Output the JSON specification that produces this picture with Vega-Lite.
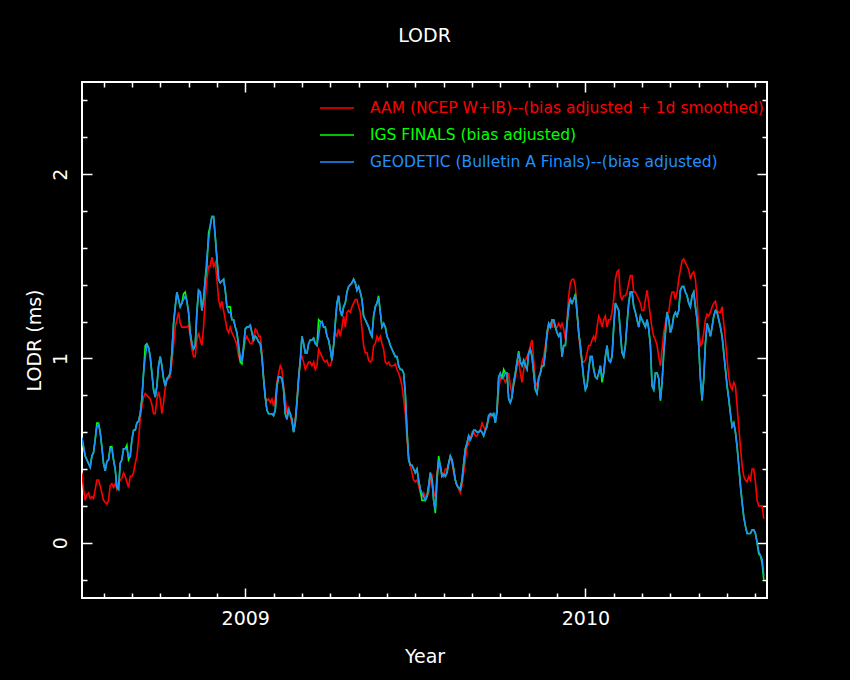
{
"$schema":"https://vega.github.io/schema/vega-lite/v6.json",
"width":685,"height":516,
"autosize":{"type":"none"},
"padding":{"left":82,"top":82,"right":83,"bottom":82},
"background":"black",
"title":{"text":"LODR","color":"white","fontSize":19,"font":"DejaVu Sans","fontWeight":"normal","anchor":"middle","baseline":"alphabetic","offset":20},
"config":{
 "view":{"stroke":"white","strokeWidth":2},
 "font":"DejaVu Sans",
 "axis":{"domain":false,"grid":false,"tickColor":"white","tickWidth":1.5,"labelColor":"white","titleColor":"white","labelFontSize":19,"titleFontSize":19,"titleFontWeight":"normal","labelFont":"DejaVu Sans","titleFont":"DejaVu Sans","labelOverlap":false,"labelFlush":false,"labelBound":false}
},
"data":{"values":[
{"t":2008.5196,"r":0.38,"g":0.57,"b":0.57},
{"t":2008.5245,"r":0.29,"g":0.52,"b":0.52},
{"t":2008.5294,"r":0.23,"g":0.47,"b":0.47},
{"t":2008.5343,"r":0.26,"g":0.45,"b":0.45},
{"t":2008.5392,"r":0.27,"g":0.43,"b":0.43},
{"t":2008.5441,"r":0.24,"g":0.41,"b":0.41},
{"t":2008.5490,"r":0.25,"g":0.47,"b":0.47},
{"t":2008.5539,"r":0.24,"g":0.49,"b":0.49},
{"t":2008.5588,"r":0.29,"g":0.56,"b":0.56},
{"t":2008.5637,"r":0.34,"g":0.65,"b":0.63},
{"t":2008.5686,"r":0.34,"g":0.65,"b":0.64},
{"t":2008.5735,"r":0.31,"g":0.60,"b":0.60},
{"t":2008.5784,"r":0.27,"g":0.52,"b":0.52},
{"t":2008.5833,"r":0.23,"g":0.43,"b":0.43},
{"t":2008.5882,"r":0.22,"g":0.39,"b":0.39},
{"t":2008.5931,"r":0.21,"g":0.44,"b":0.44},
{"t":2008.5980,"r":0.23,"g":0.45,"b":0.45},
{"t":2008.6029,"r":0.31,"g":0.52,"b":0.51},
{"t":2008.6078,"r":0.32,"g":0.52,"b":0.51},
{"t":2008.6127,"r":0.30,"g":0.45,"b":0.45},
{"t":2008.6176,"r":0.32,"g":0.40,"b":0.40},
{"t":2008.6225,"r":0.29,"g":0.30,"b":0.30},
{"t":2008.6274,"r":0.32,"g":0.29,"b":0.29},
{"t":2008.6323,"r":0.34,"g":0.43,"b":0.43},
{"t":2008.6372,"r":0.35,"g":0.45,"b":0.45},
{"t":2008.6421,"r":0.38,"g":0.51,"b":0.51},
{"t":2008.6470,"r":0.36,"g":0.51,"b":0.51},
{"t":2008.6519,"r":0.33,"g":0.53,"b":0.51},
{"t":2008.6568,"r":0.30,"g":0.45,"b":0.47},
{"t":2008.6618,"r":0.36,"g":0.47,"b":0.47},
{"t":2008.6667,"r":0.36,"g":0.56,"b":0.56},
{"t":2008.6716,"r":0.38,"g":0.61,"b":0.61},
{"t":2008.6765,"r":0.43,"g":0.61,"b":0.61},
{"t":2008.6814,"r":0.47,"g":0.65,"b":0.65},
{"t":2008.6863,"r":0.56,"g":0.66,"b":0.66},
{"t":2008.6912,"r":0.67,"g":0.70,"b":0.70},
{"t":2008.6961,"r":0.74,"g":0.78,"b":0.78},
{"t":2008.7010,"r":0.79,"g":0.92,"b":0.92},
{"t":2008.7059,"r":0.81,"g":1.07,"b":1.01},
{"t":2008.7108,"r":0.80,"g":1.08,"b":1.07},
{"t":2008.7157,"r":0.79,"g":1.06,"b":1.06},
{"t":2008.7206,"r":0.78,"g":1.01,"b":1.01},
{"t":2008.7255,"r":0.75,"g":0.92,"b":0.92},
{"t":2008.7304,"r":0.70,"g":0.83,"b":0.83},
{"t":2008.7353,"r":0.70,"g":0.79,"b":0.79},
{"t":2008.7402,"r":0.78,"g":0.85,"b":0.85},
{"t":2008.7451,"r":0.82,"g":0.96,"b":0.96},
{"t":2008.7500,"r":0.78,"g":1.01,"b":1.01},
{"t":2008.7549,"r":0.70,"g":0.96,"b":0.96},
{"t":2008.7598,"r":0.76,"g":0.89,"b":0.89},
{"t":2008.7647,"r":0.84,"g":0.85,"b":0.85},
{"t":2008.7696,"r":0.88,"g":0.89,"b":0.89},
{"t":2008.7745,"r":0.89,"g":0.90,"b":0.90},
{"t":2008.7794,"r":0.90,"g":0.92,"b":0.92},
{"t":2008.7843,"r":0.98,"g":1.03,"b":1.03},
{"t":2008.7892,"r":1.07,"g":1.19,"b":1.19},
{"t":2008.7941,"r":1.17,"g":1.28,"b":1.28},
{"t":2008.7990,"r":1.21,"g":1.36,"b":1.36},
{"t":2008.8039,"r":1.25,"g":1.32,"b":1.32},
{"t":2008.8088,"r":1.19,"g":1.28,"b":1.28},
{"t":2008.8137,"r":1.17,"g":1.30,"b":1.30},
{"t":2008.8186,"r":1.17,"g":1.35,"b":1.32},
{"t":2008.8235,"r":1.17,"g":1.36,"b":1.34},
{"t":2008.8284,"r":1.17,"g":1.31,"b":1.31},
{"t":2008.8333,"r":1.18,"g":1.25,"b":1.25},
{"t":2008.8382,"r":1.12,"g":1.14,"b":1.14},
{"t":2008.8431,"r":1.05,"g":1.08,"b":1.08},
{"t":2008.8480,"r":1.01,"g":1.05,"b":1.05},
{"t":2008.8529,"r":1.01,"g":1.07,"b":1.07},
{"t":2008.8578,"r":1.10,"g":1.25,"b":1.25},
{"t":2008.8627,"r":1.14,"g":1.37,"b":1.37},
{"t":2008.8676,"r":1.10,"g":1.36,"b":1.36},
{"t":2008.8725,"r":1.07,"g":1.26,"b":1.26},
{"t":2008.8774,"r":1.17,"g":1.32,"b":1.32},
{"t":2008.8823,"r":1.32,"g":1.43,"b":1.43},
{"t":2008.8872,"r":1.43,"g":1.50,"b":1.55},
{"t":2008.8921,"r":1.50,"g":1.68,"b":1.64},
{"t":2008.8970,"r":1.50,"g":1.72,"b":1.72},
{"t":2008.9019,"r":1.55,"g":1.77,"b":1.77},
{"t":2008.9069,"r":1.50,"g":1.77,"b":1.77},
{"t":2008.9118,"r":1.52,"g":1.66,"b":1.66},
{"t":2008.9167,"r":1.43,"g":1.54,"b":1.54},
{"t":2008.9216,"r":1.32,"g":1.43,"b":1.43},
{"t":2008.9265,"r":1.28,"g":1.41,"b":1.41},
{"t":2008.9314,"r":1.31,"g":1.42,"b":1.42},
{"t":2008.9363,"r":1.26,"g":1.43,"b":1.43},
{"t":2008.9412,"r":1.21,"g":1.37,"b":1.37},
{"t":2008.9461,"r":1.16,"g":1.28,"b":1.28},
{"t":2008.9510,"r":1.14,"g":1.28,"b":1.25},
{"t":2008.9559,"r":1.17,"g":1.28,"b":1.25},
{"t":2008.9608,"r":1.14,"g":1.21,"b":1.21},
{"t":2008.9657,"r":1.12,"g":1.21,"b":1.21},
{"t":2008.9706,"r":1.10,"g":1.17,"b":1.17},
{"t":2008.9755,"r":1.07,"g":1.14,"b":1.14},
{"t":2008.9804,"r":1.01,"g":1.07,"b":1.07},
{"t":2008.9853,"r":0.99,"g":0.98,"b":1.01},
{"t":2008.9902,"r":1.01,"g":0.97,"b":0.98},
{"t":2008.9951,"r":1.05,"g":1.05,"b":1.07},
{"t":2009.0000,"r":1.10,"g":1.16,"b":1.16},
{"t":2009.0049,"r":1.12,"g":1.17,"b":1.17},
{"t":2009.0098,"r":1.10,"g":1.17,"b":1.17},
{"t":2009.0147,"r":1.08,"g":1.18,"b":1.18},
{"t":2009.0196,"r":1.08,"g":1.14,"b":1.14},
{"t":2009.0245,"r":1.12,"g":1.10,"b":1.10},
{"t":2009.0294,"r":1.16,"g":1.12,"b":1.12},
{"t":2009.0343,"r":1.15,"g":1.11,"b":1.11},
{"t":2009.0392,"r":1.12,"g":1.09,"b":1.09},
{"t":2009.0441,"r":1.12,"g":1.08,"b":1.08},
{"t":2009.0490,"r":1.03,"g":1.01,"b":1.01},
{"t":2009.0539,"r":0.90,"g":0.89,"b":0.89},
{"t":2009.0588,"r":0.79,"g":0.79,"b":0.79},
{"t":2009.0637,"r":0.77,"g":0.72,"b":0.72},
{"t":2009.0686,"r":0.78,"g":0.70,"b":0.70},
{"t":2009.0735,"r":0.76,"g":0.70,"b":0.70},
{"t":2009.0784,"r":0.78,"g":0.70,"b":0.70},
{"t":2009.0833,"r":0.74,"g":0.69,"b":0.69},
{"t":2009.0882,"r":0.78,"g":0.72,"b":0.72},
{"t":2009.0931,"r":0.87,"g":0.85,"b":0.85},
{"t":2009.0980,"r":0.92,"g":0.90,"b":0.90},
{"t":2009.1029,"r":0.96,"g":0.90,"b":0.90},
{"t":2009.1078,"r":0.94,"g":0.89,"b":0.89},
{"t":2009.1127,"r":0.85,"g":0.83,"b":0.83},
{"t":2009.1176,"r":0.78,"g":0.70,"b":0.70},
{"t":2009.1225,"r":0.70,"g":0.67,"b":0.67},
{"t":2009.1274,"r":0.74,"g":0.72,"b":0.72},
{"t":2009.1323,"r":0.69,"g":0.70,"b":0.70},
{"t":2009.1372,"r":0.65,"g":0.67,"b":0.67},
{"t":2009.1421,"r":0.61,"g":0.60,"b":0.60},
{"t":2009.1470,"r":0.67,"g":0.65,"b":0.65},
{"t":2009.1520,"r":0.78,"g":0.76,"b":0.76},
{"t":2009.1569,"r":0.90,"g":0.89,"b":0.89},
{"t":2009.1618,"r":0.99,"g":0.99,"b":0.99},
{"t":2009.1667,"r":1.01,"g":1.12,"b":1.12},
{"t":2009.1716,"r":0.98,"g":1.08,"b":1.08},
{"t":2009.1765,"r":0.94,"g":1.03,"b":1.03},
{"t":2009.1814,"r":0.96,"g":1.03,"b":1.03},
{"t":2009.1863,"r":0.98,"g":1.08,"b":1.08},
{"t":2009.1912,"r":0.98,"g":1.10,"b":1.10},
{"t":2009.1961,"r":0.96,"g":1.10,"b":1.10},
{"t":2009.2010,"r":0.98,"g":1.11,"b":1.11},
{"t":2009.2059,"r":0.94,"g":1.08,"b":1.08},
{"t":2009.2108,"r":0.96,"g":1.07,"b":1.07},
{"t":2009.2157,"r":1.05,"g":1.21,"b":1.12},
{"t":2009.2206,"r":1.03,"g":1.20,"b":1.19},
{"t":2009.2255,"r":1.01,"g":1.20,"b":1.20},
{"t":2009.2304,"r":0.99,"g":1.17,"b":1.17},
{"t":2009.2353,"r":0.98,"g":1.17,"b":1.17},
{"t":2009.2402,"r":0.99,"g":1.12,"b":1.12},
{"t":2009.2451,"r":0.96,"g":1.10,"b":1.10},
{"t":2009.2500,"r":0.96,"g":1.05,"b":1.05},
{"t":2009.2549,"r":0.99,"g":0.99,"b":0.99},
{"t":2009.2598,"r":1.07,"g":1.07,"b":1.07},
{"t":2009.2647,"r":1.14,"g":1.19,"b":1.19},
{"t":2009.2696,"r":1.12,"g":1.30,"b":1.30},
{"t":2009.2745,"r":1.16,"g":1.34,"b":1.34},
{"t":2009.2794,"r":1.12,"g":1.26,"b":1.26},
{"t":2009.2843,"r":1.17,"g":1.23,"b":1.23},
{"t":2009.2892,"r":1.23,"g":1.28,"b":1.28},
{"t":2009.2941,"r":1.17,"g":1.30,"b":1.30},
{"t":2009.2990,"r":1.25,"g":1.36,"b":1.36},
{"t":2009.3039,"r":1.26,"g":1.39,"b":1.39},
{"t":2009.3088,"r":1.25,"g":1.40,"b":1.40},
{"t":2009.3137,"r":1.28,"g":1.41,"b":1.41},
{"t":2009.3186,"r":1.30,"g":1.43,"b":1.43},
{"t":2009.3235,"r":1.32,"g":1.41,"b":1.41},
{"t":2009.3284,"r":1.32,"g":1.37,"b":1.37},
{"t":2009.3333,"r":1.28,"g":1.39,"b":1.39},
{"t":2009.3382,"r":1.25,"g":1.36,"b":1.36},
{"t":2009.3431,"r":1.16,"g":1.32,"b":1.32},
{"t":2009.3480,"r":1.07,"g":1.23,"b":1.23},
{"t":2009.3529,"r":1.03,"g":1.21,"b":1.21},
{"t":2009.3578,"r":1.03,"g":1.19,"b":1.19},
{"t":2009.3627,"r":0.99,"g":1.17,"b":1.17},
{"t":2009.3676,"r":0.98,"g":1.14,"b":1.14},
{"t":2009.3725,"r":0.99,"g":1.12,"b":1.12},
{"t":2009.3774,"r":1.07,"g":1.23,"b":1.23},
{"t":2009.3823,"r":1.08,"g":1.28,"b":1.28},
{"t":2009.3872,"r":1.12,"g":1.30,"b":1.30},
{"t":2009.3921,"r":1.10,"g":1.34,"b":1.33},
{"t":2009.3971,"r":1.12,"g":1.25,"b":1.25},
{"t":2009.4020,"r":1.08,"g":1.17,"b":1.17},
{"t":2009.4069,"r":1.05,"g":1.19,"b":1.19},
{"t":2009.4118,"r":0.98,"g":1.17,"b":1.17},
{"t":2009.4167,"r":0.97,"g":1.12,"b":1.12},
{"t":2009.4216,"r":0.98,"g":1.10,"b":1.10},
{"t":2009.4265,"r":0.96,"g":1.07,"b":1.07},
{"t":2009.4314,"r":0.96,"g":1.05,"b":1.05},
{"t":2009.4363,"r":0.96,"g":1.03,"b":1.03},
{"t":2009.4412,"r":0.97,"g":1.01,"b":1.01},
{"t":2009.4461,"r":0.94,"g":1.01,"b":1.01},
{"t":2009.4510,"r":0.92,"g":0.96,"b":0.96},
{"t":2009.4559,"r":0.89,"g":0.94,"b":0.94},
{"t":2009.4608,"r":0.85,"g":0.94,"b":0.94},
{"t":2009.4657,"r":0.78,"g":0.92,"b":0.92},
{"t":2009.4706,"r":0.70,"g":0.81,"b":0.81},
{"t":2009.4755,"r":0.56,"g":0.61,"b":0.61},
{"t":2009.4804,"r":0.47,"g":0.45,"b":0.45},
{"t":2009.4853,"r":0.42,"g":0.42,"b":0.42},
{"t":2009.4902,"r":0.38,"g":0.42,"b":0.42},
{"t":2009.4951,"r":0.34,"g":0.40,"b":0.40},
{"t":2009.5000,"r":0.33,"g":0.38,"b":0.38},
{"t":2009.5049,"r":0.34,"g":0.40,"b":0.40},
{"t":2009.5098,"r":0.31,"g":0.34,"b":0.34},
{"t":2009.5147,"r":0.27,"g":0.29,"b":0.29},
{"t":2009.5196,"r":0.25,"g":0.23,"b":0.27},
{"t":2009.5245,"r":0.27,"g":0.23,"b":0.25},
{"t":2009.5294,"r":0.25,"g":0.23,"b":0.23},
{"t":2009.5343,"r":0.25,"g":0.25,"b":0.25},
{"t":2009.5392,"r":0.27,"g":0.31,"b":0.31},
{"t":2009.5441,"r":0.34,"g":0.38,"b":0.38},
{"t":2009.5490,"r":0.36,"g":0.34,"b":0.34},
{"t":2009.5539,"r":0.27,"g":0.23,"b":0.23},
{"t":2009.5588,"r":0.25,"g":0.16,"b":0.18},
{"t":2009.5637,"r":0.38,"g":0.34,"b":0.34},
{"t":2009.5686,"r":0.43,"g":0.47,"b":0.45},
{"t":2009.5735,"r":0.40,"g":0.42,"b":0.42},
{"t":2009.5784,"r":0.38,"g":0.36,"b":0.36},
{"t":2009.5833,"r":0.36,"g":0.37,"b":0.37},
{"t":2009.5882,"r":0.40,"g":0.36,"b":0.36},
{"t":2009.5931,"r":0.40,"g":0.38,"b":0.38},
{"t":2009.5980,"r":0.43,"g":0.43,"b":0.43},
{"t":2009.6029,"r":0.47,"g":0.47,"b":0.47},
{"t":2009.6078,"r":0.43,"g":0.45,"b":0.45},
{"t":2009.6127,"r":0.38,"g":0.40,"b":0.40},
{"t":2009.6176,"r":0.34,"g":0.34,"b":0.34},
{"t":2009.6225,"r":0.31,"g":0.31,"b":0.31},
{"t":2009.6274,"r":0.29,"g":0.30,"b":0.30},
{"t":2009.6323,"r":0.27,"g":0.29,"b":0.29},
{"t":2009.6372,"r":0.31,"g":0.34,"b":0.34},
{"t":2009.6422,"r":0.38,"g":0.43,"b":0.43},
{"t":2009.6471,"r":0.45,"g":0.51,"b":0.51},
{"t":2009.6520,"r":0.52,"g":0.54,"b":0.54},
{"t":2009.6569,"r":0.54,"g":0.58,"b":0.58},
{"t":2009.6618,"r":0.56,"g":0.56,"b":0.56},
{"t":2009.6667,"r":0.60,"g":0.58,"b":0.58},
{"t":2009.6716,"r":0.60,"g":0.61,"b":0.61},
{"t":2009.6765,"r":0.58,"g":0.61,"b":0.61},
{"t":2009.6814,"r":0.58,"g":0.60,"b":0.60},
{"t":2009.6863,"r":0.60,"g":0.60,"b":0.60},
{"t":2009.6912,"r":0.61,"g":0.61,"b":0.61},
{"t":2009.6961,"r":0.65,"g":0.60,"b":0.60},
{"t":2009.7010,"r":0.63,"g":0.58,"b":0.58},
{"t":2009.7059,"r":0.61,"g":0.61,"b":0.61},
{"t":2009.7108,"r":0.65,"g":0.63,"b":0.63},
{"t":2009.7157,"r":0.67,"g":0.69,"b":0.69},
{"t":2009.7206,"r":0.69,"g":0.70,"b":0.70},
{"t":2009.7255,"r":0.70,"g":0.69,"b":0.69},
{"t":2009.7304,"r":0.69,"g":0.70,"b":0.70},
{"t":2009.7353,"r":0.67,"g":0.65,"b":0.65},
{"t":2009.7402,"r":0.70,"g":0.72,"b":0.72},
{"t":2009.7451,"r":0.83,"g":0.90,"b":0.90},
{"t":2009.7500,"r":0.89,"g":0.92,"b":0.92},
{"t":2009.7549,"r":0.90,"g":0.89,"b":0.89},
{"t":2009.7598,"r":0.89,"g":0.94,"b":0.90},
{"t":2009.7647,"r":0.87,"g":0.92,"b":0.92},
{"t":2009.7696,"r":0.89,"g":0.92,"b":0.92},
{"t":2009.7745,"r":0.92,"g":0.78,"b":0.78},
{"t":2009.7794,"r":0.85,"g":0.76,"b":0.76},
{"t":2009.7843,"r":0.81,"g":0.79,"b":0.79},
{"t":2009.7892,"r":0.85,"g":0.87,"b":0.87},
{"t":2009.7941,"r":0.89,"g":0.92,"b":0.92},
{"t":2009.7990,"r":0.96,"g":0.98,"b":0.98},
{"t":2009.8039,"r":0.99,"g":1.04,"b":1.03},
{"t":2009.8088,"r":0.92,"g":0.98,"b":0.98},
{"t":2009.8137,"r":0.87,"g":0.96,"b":0.96},
{"t":2009.8186,"r":0.94,"g":0.99,"b":0.99},
{"t":2009.8235,"r":0.99,"g":0.96,"b":0.96},
{"t":2009.8284,"r":1.01,"g":0.94,"b":0.94},
{"t":2009.8333,"r":1.03,"g":1.03,"b":1.03},
{"t":2009.8382,"r":1.07,"g":1.05,"b":1.05},
{"t":2009.8431,"r":1.10,"g":1.01,"b":1.01},
{"t":2009.8480,"r":0.99,"g":0.92,"b":0.92},
{"t":2009.8529,"r":0.87,"g":0.83,"b":0.83},
{"t":2009.8578,"r":0.85,"g":0.81,"b":0.81},
{"t":2009.8627,"r":0.90,"g":0.89,"b":0.89},
{"t":2009.8676,"r":0.92,"g":0.92,"b":0.92},
{"t":2009.8725,"r":0.98,"g":0.96,"b":0.96},
{"t":2009.8774,"r":1.01,"g":0.96,"b":0.96},
{"t":2009.8823,"r":1.07,"g":1.03,"b":1.03},
{"t":2009.8873,"r":1.12,"g":1.14,"b":1.14},
{"t":2009.8922,"r":1.17,"g":1.19,"b":1.19},
{"t":2009.8971,"r":1.17,"g":1.17,"b":1.17},
{"t":2009.9020,"r":1.17,"g":1.21,"b":1.21},
{"t":2009.9069,"r":1.21,"g":1.21,"b":1.21},
{"t":2009.9118,"r":1.17,"g":1.17,"b":1.17},
{"t":2009.9167,"r":1.17,"g":1.14,"b":1.14},
{"t":2009.9216,"r":1.19,"g":1.12,"b":1.12},
{"t":2009.9265,"r":1.17,"g":1.14,"b":1.14},
{"t":2009.9314,"r":1.19,"g":1.01,"b":1.01},
{"t":2009.9363,"r":1.16,"g":1.07,"b":1.07},
{"t":2009.9412,"r":1.10,"g":1.07,"b":1.07},
{"t":2009.9461,"r":1.21,"g":1.19,"b":1.19},
{"t":2009.9510,"r":1.34,"g":1.28,"b":1.28},
{"t":2009.9559,"r":1.41,"g":1.32,"b":1.32},
{"t":2009.9608,"r":1.43,"g":1.30,"b":1.30},
{"t":2009.9657,"r":1.43,"g":1.32,"b":1.32},
{"t":2009.9706,"r":1.39,"g":1.35,"b":1.34},
{"t":2009.9755,"r":1.25,"g":1.25,"b":1.25},
{"t":2009.9804,"r":1.14,"g":1.14,"b":1.14},
{"t":2009.9853,"r":1.03,"g":1.07,"b":1.07},
{"t":2009.9902,"r":0.98,"g":0.98,"b":0.98},
{"t":2009.9951,"r":0.98,"g":0.89,"b":0.89},
{"t":2010.0000,"r":0.99,"g":0.83,"b":0.83},
{"t":2010.0049,"r":1.03,"g":0.85,"b":0.85},
{"t":2010.0098,"r":1.07,"g":0.94,"b":0.94},
{"t":2010.0147,"r":1.07,"g":1.01,"b":1.01},
{"t":2010.0196,"r":1.10,"g":1.01,"b":1.01},
{"t":2010.0245,"r":1.12,"g":0.94,"b":0.94},
{"t":2010.0294,"r":1.10,"g":0.90,"b":0.90},
{"t":2010.0343,"r":1.17,"g":0.89,"b":0.89},
{"t":2010.0392,"r":1.23,"g":0.92,"b":0.92},
{"t":2010.0441,"r":1.21,"g":0.96,"b":0.96},
{"t":2010.0490,"r":1.17,"g":0.87,"b":0.90},
{"t":2010.0539,"r":1.21,"g":0.92,"b":0.92},
{"t":2010.0588,"r":1.23,"g":1.01,"b":1.01},
{"t":2010.0637,"r":1.17,"g":1.07,"b":1.07},
{"t":2010.0686,"r":1.21,"g":0.99,"b":0.99},
{"t":2010.0735,"r":1.21,"g":0.98,"b":0.98},
{"t":2010.0784,"r":1.25,"g":1.01,"b":1.01},
{"t":2010.0833,"r":1.32,"g":1.17,"b":1.17},
{"t":2010.0882,"r":1.43,"g":1.30,"b":1.30},
{"t":2010.0931,"r":1.47,"g":1.28,"b":1.28},
{"t":2010.0980,"r":1.48,"g":1.26,"b":1.26},
{"t":2010.1029,"r":1.34,"g":1.14,"b":1.14},
{"t":2010.1078,"r":1.32,"g":1.03,"b":1.03},
{"t":2010.1127,"r":1.34,"g":1.01,"b":1.01},
{"t":2010.1176,"r":1.34,"g":1.07,"b":1.07},
{"t":2010.1225,"r":1.36,"g":1.19,"b":1.19},
{"t":2010.1274,"r":1.41,"g":1.30,"b":1.30},
{"t":2010.1324,"r":1.45,"g":1.36,"b":1.36},
{"t":2010.1373,"r":1.45,"g":1.36,"b":1.36},
{"t":2010.1422,"r":1.36,"g":1.28,"b":1.28},
{"t":2010.1471,"r":1.36,"g":1.25,"b":1.25},
{"t":2010.1520,"r":1.34,"g":1.21,"b":1.21},
{"t":2010.1569,"r":1.32,"g":1.17,"b":1.17},
{"t":2010.1618,"r":1.30,"g":1.23,"b":1.23},
{"t":2010.1667,"r":1.26,"g":1.21,"b":1.21},
{"t":2010.1716,"r":1.26,"g":1.19,"b":1.19},
{"t":2010.1765,"r":1.32,"g":1.17,"b":1.17},
{"t":2010.1814,"r":1.37,"g":1.21,"b":1.21},
{"t":2010.1863,"r":1.30,"g":1.16,"b":1.16},
{"t":2010.1912,"r":1.23,"g":1.07,"b":1.07},
{"t":2010.1961,"r":1.16,"g":0.85,"b":0.85},
{"t":2010.2010,"r":1.12,"g":0.83,"b":0.83},
{"t":2010.2059,"r":1.10,"g":0.92,"b":0.92},
{"t":2010.2108,"r":1.07,"g":0.92,"b":0.92},
{"t":2010.2157,"r":1.01,"g":0.89,"b":0.89},
{"t":2010.2206,"r":0.96,"g":0.77,"b":0.78},
{"t":2010.2255,"r":1.05,"g":0.87,"b":0.87},
{"t":2010.2304,"r":1.14,"g":1.03,"b":1.03},
{"t":2010.2353,"r":1.19,"g":1.14,"b":1.14},
{"t":2010.2402,"r":1.25,"g":1.25,"b":1.25},
{"t":2010.2451,"r":1.25,"g":1.21,"b":1.21},
{"t":2010.2500,"r":1.32,"g":1.14,"b":1.14},
{"t":2010.2549,"r":1.36,"g":1.17,"b":1.17},
{"t":2010.2598,"r":1.36,"g":1.23,"b":1.23},
{"t":2010.2647,"r":1.32,"g":1.25,"b":1.25},
{"t":2010.2696,"r":1.36,"g":1.23,"b":1.23},
{"t":2010.2745,"r":1.43,"g":1.26,"b":1.26},
{"t":2010.2794,"r":1.48,"g":1.37,"b":1.37},
{"t":2010.2843,"r":1.53,"g":1.39,"b":1.39},
{"t":2010.2892,"r":1.54,"g":1.39,"b":1.39},
{"t":2010.2941,"r":1.52,"g":1.36,"b":1.36},
{"t":2010.2990,"r":1.50,"g":1.34,"b":1.34},
{"t":2010.3039,"r":1.48,"g":1.30,"b":1.30},
{"t":2010.3088,"r":1.43,"g":1.28,"b":1.28},
{"t":2010.3137,"r":1.46,"g":1.34,"b":1.34},
{"t":2010.3186,"r":1.47,"g":1.36,"b":1.36},
{"t":2010.3235,"r":1.43,"g":1.28,"b":1.28},
{"t":2010.3284,"r":1.32,"g":1.21,"b":1.21},
{"t":2010.3333,"r":1.16,"g":1.07,"b":1.07},
{"t":2010.3382,"r":1.07,"g":0.89,"b":0.89},
{"t":2010.3431,"r":1.08,"g":0.77,"b":0.78},
{"t":2010.3480,"r":1.14,"g":0.89,"b":0.89},
{"t":2010.3529,"r":1.21,"g":1.08,"b":1.08},
{"t":2010.3578,"r":1.24,"g":1.19,"b":1.19},
{"t":2010.3627,"r":1.23,"g":1.16,"b":1.16},
{"t":2010.3676,"r":1.25,"g":1.12,"b":1.12},
{"t":2010.3725,"r":1.28,"g":1.17,"b":1.17},
{"t":2010.3775,"r":1.30,"g":1.23,"b":1.23},
{"t":2010.3824,"r":1.31,"g":1.26,"b":1.26},
{"t":2010.3873,"r":1.26,"g":1.25,"b":1.25},
{"t":2010.3922,"r":1.25,"g":1.21,"b":1.21},
{"t":2010.3971,"r":1.25,"g":1.17,"b":1.17},
{"t":2010.4020,"r":1.28,"g":1.12,"b":1.12},
{"t":2010.4069,"r":1.19,"g":1.03,"b":1.03},
{"t":2010.4118,"r":1.10,"g":0.94,"b":0.94},
{"t":2010.4167,"r":0.99,"g":0.85,"b":0.85},
{"t":2010.4216,"r":0.90,"g":0.78,"b":0.78},
{"t":2010.4265,"r":0.85,"g":0.70,"b":0.70},
{"t":2010.4314,"r":0.83,"g":0.63,"b":0.63},
{"t":2010.4363,"r":0.87,"g":0.65,"b":0.65},
{"t":2010.4412,"r":0.85,"g":0.60,"b":0.60},
{"t":2010.4461,"r":0.74,"g":0.52,"b":0.52},
{"t":2010.4510,"r":0.63,"g":0.42,"b":0.42},
{"t":2010.4559,"r":0.52,"g":0.31,"b":0.31},
{"t":2010.4608,"r":0.42,"g":0.22,"b":0.22},
{"t":2010.4657,"r":0.36,"g":0.14,"b":0.14},
{"t":2010.4706,"r":0.34,"g":0.09,"b":0.09},
{"t":2010.4755,"r":0.33,"g":0.05,"b":0.05},
{"t":2010.4804,"r":0.36,"g":0.05,"b":0.05},
{"t":2010.4853,"r":0.34,"g":0.05,"b":0.05},
{"t":2010.4902,"r":0.40,"g":0.07,"b":0.07},
{"t":2010.4951,"r":0.40,"g":0.07,"b":0.07},
{"t":2010.5000,"r":0.33,"g":0.05,"b":0.05},
{"t":2010.5049,"r":0.23,"g":0.00,"b":0.00},
{"t":2010.5098,"r":0.20,"g":-0.06,"b":-0.05},
{"t":2010.5147,"r":0.20,"g":-0.07,"b":-0.07},
{"t":2010.5196,"r":0.20,"g":-0.11,"b":-0.09},
{"t":2010.5245,"r":0.13,"g":-0.20,"b":-0.18}
]},
"layer":[
 {"mark":{"type":"line","strokeWidth":1.6,"clip":true},
  "encoding":{
   "x":{"field":"t","type":"quantitative","scale":{"domain":[2008.52,2010.534],"nice":false,"zero":false},
        "axis":{"orient":"bottom","title":"Year","titlePadding":14,
          "values":[2008.5833,2008.6667,2008.75,2008.8333,2008.9167,2009,2009.0833,2009.1667,2009.25,2009.3333,2009.4167,2009.5,2009.5833,2009.6667,2009.75,2009.8333,2009.9167,2010,2010.0833,2010.1667,2010.25,2010.3333,2010.4167,2010.5],
          "tickSize":{"condition":{"test":"abs(datum.value-round(datum.value))<0.001","value":-10},"value":-5},
          "labelExpr":"abs(datum.value-round(datum.value))<0.001 ? format(datum.value,'d') : ''",
          "labelPadding":21}},
   "y":{"field":"r","type":"quantitative","scale":{"domain":[-0.3,2.5],"nice":false,"zero":false},
        "axis":{"orient":"left","title":"LODR (ms)","titlePadding":2,
          "values":[-0.2,0,0.2,0.4,0.6,0.8,1,1.2,1.4,1.6,1.8,2,2.2,2.4],
          "tickSize":{"condition":{"test":"abs(datum.value-round(datum.value))<0.001","value":-10},"value":-5},
          "labelExpr":"abs(datum.value-round(datum.value))<0.001 ? format(datum.value,'d') : ''",
          "labelAngle":-90,"labelAlign":"center","labelBaseline":"bottom","labelPadding":22}},
   "color":{"datum":"AAM (NCEP W+IB)--(bias adjusted + 1d smoothed)","type":"nominal",
     "scale":{"domain":["AAM (NCEP W+IB)--(bias adjusted + 1d smoothed)","IGS FINALS (bias adjusted)","GEODETIC (Bulletin A Finals)--(bias adjusted)"],"range":["#ff0000","#00ff00","#1e90ff"]},
     "legend":{"orient":"none","legendX":237,"legendY":8,"title":null,"direction":"vertical","symbolType":"stroke","symbolSize":1156,"symbolStrokeWidth":1.3,"labelFontSize":15.5,"labelFont":"DejaVu Sans","labelOffset":15,"labelLimit":0,"rowPadding":-8,"padding":0,"labelColor":{"expr":"scale('color', datum.value)"}}}
  }},
 {"mark":{"type":"line","strokeWidth":1.6,"clip":true},
  "encoding":{
   "x":{"field":"t","type":"quantitative","scale":{"domain":[2008.52,2010.534],"nice":false,"zero":false},
        "axis":{"orient":"top","title":null,"labels":false,
          "values":[2008.5833,2008.6667,2008.75,2008.8333,2008.9167,2009,2009.0833,2009.1667,2009.25,2009.3333,2009.4167,2009.5,2009.5833,2009.6667,2009.75,2009.8333,2009.9167,2010,2010.0833,2010.1667,2010.25,2010.3333,2010.4167,2010.5],
          "tickSize":{"condition":{"test":"abs(datum.value-round(datum.value))<0.001","value":-10},"value":-5}}},
   "y":{"field":"g","type":"quantitative","scale":{"domain":[-0.3,2.5],"nice":false,"zero":false},
        "axis":{"orient":"right","title":null,"labels":false,
          "values":[-0.2,0,0.2,0.4,0.6,0.8,1,1.2,1.4,1.6,1.8,2,2.2,2.4],
          "tickSize":{"condition":{"test":"abs(datum.value-round(datum.value))<0.001","value":-10},"value":-5}}},
   "color":{"datum":"IGS FINALS (bias adjusted)","type":"nominal"}
  }},
 {"mark":{"type":"line","strokeWidth":1.6,"clip":true},
  "encoding":{
   "x":{"field":"t","type":"quantitative","scale":{"domain":[2008.52,2010.534],"nice":false,"zero":false},"axis":null},
   "y":{"field":"b","type":"quantitative","scale":{"domain":[-0.3,2.5],"nice":false,"zero":false},"axis":null},
   "color":{"datum":"GEODETIC (Bulletin A Finals)--(bias adjusted)","type":"nominal"}
  }}
],
"resolve":{"axis":{"x":"independent","y":"independent"}}
}
